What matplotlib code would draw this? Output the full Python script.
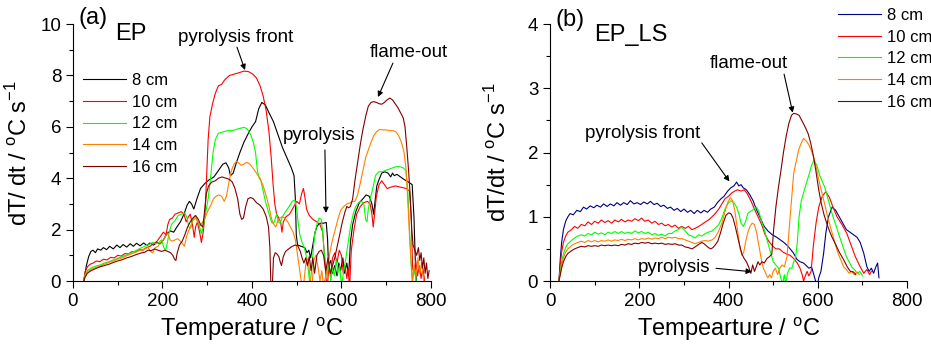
import matplotlib
matplotlib.use('Agg')
import matplotlib.pyplot as plt
import numpy as np
from matplotlib.ticker import MultipleLocator

plt.rcParams['font.family'] = ['Liberation Sans', 'DejaVu Sans']
plt.rcParams['mathtext.fontset'] = 'custom'
plt.rcParams['mathtext.rm'] = 'Liberation Sans'

labels = ['8 cm', '10 cm', '12 cm', '14 cm', '16 cm']
colors_a = ['black', '#ff0000', '#00ff00', '#ff8000', '#800000']
colors_b = ['#000080', '#ff0000', '#00ff00', '#ff8000', '#800000']

# (a) EP : (temperature, dT/dt)
ep_8 = [(24, 0), (27, 0.3), (30, 0.6), (35, 0.95), (40, 1.15), (45, 1.2), (50, 1.1), (55, 1.25), (62, 1.2),
        (68, 1.3), (75, 1.22), (82, 1.35), (90, 1.25), (98, 1.4), (105, 1.3), (112, 1.42), (120, 1.32),
        (128, 1.45), (135, 1.35), (142, 1.47), (150, 1.37), (158, 1.48), (165, 1.38), (172, 1.48), (180, 1.4),
        (188, 1.5), (195, 1.45), (202, 1.6), (210, 1.85), (218, 1.95), (225, 1.9), (232, 2.1), (240, 2.3),
        (248, 2.6), (255, 2.95), (260, 3.1), (265, 3.0), (270, 2.8), (277, 3.2), (285, 3.6), (295, 3.8),
        (305, 3.95), (315, 4.05), (325, 4.3), (335, 4.55), (342, 4.6), (348, 4.4), (352, 4.1), (358, 4.2),
        (365, 4.6), (373, 5.0), (382, 5.4), (392, 5.75), (400, 6.0), (408, 6.2), (415, 6.7), (422, 6.95),
        (430, 6.85), (438, 6.55), (448, 6.2), (458, 5.7), (468, 5.2), (478, 4.8), (488, 4.4), (494, 4.1),
        (497, 3.2), (499, 1.8), (502, 1.4), (510, 1.35), (518, 1.3), (523, 1.1), (527, 1.2), (531, 0.9),
        (536, 1.4), (541, 1.9), (546, 2.15), (552, 2.25), (560, 2.25), (566, 2.28), (569, 1.6), (571, 0.6),
        (576, 0.8), (580, 0.3), (585, 0.6), (590, 0.2), (594, 0.7), (598, 0.4), (603, 0.9), (607, 0.3),
        (612, 0.7), (616, 0.2), (620, 1.5), (625, 2.2), (632, 2.7), (640, 3.05), (648, 3.2), (655, 3.35),
        (662, 3.3), (668, 3.0), (672, 2.6), (675, 3.1), (679, 3.7), (684, 3.95), (690, 4.2), (697, 4.25),
        (704, 4.2), (710, 4.05), (714, 4.2), (718, 4.1), (724, 4.15), (732, 4.05), (740, 3.95), (750, 3.85),
        (758, 3.75), (762, 2.5), (765, 0.8), (768, -0.3)]
ep_10 = [(24, 0), (27, 0.35), (32, 0.55), (38, 0.65), (45, 0.7), (52, 0.78), (60, 0.75), (68, 0.85), (76, 0.82),
         (84, 0.92), (92, 0.9), (100, 1.0), (108, 0.97), (116, 1.07), (124, 1.05), (132, 1.15), (140, 1.12),
         (148, 1.22), (156, 1.2), (164, 1.3), (172, 1.35), (180, 1.45), (188, 1.55), (196, 1.75), (202, 1.9),
         (208, 1.8), (212, 2.2), (216, 2.4), (222, 2.45), (228, 2.6), (235, 2.65), (242, 2.7), (248, 2.6),
         (253, 2.3), (258, 2.5), (262, 2.6), (267, 2.2), (271, 1.7), (274, 2.1), (278, 2.3), (283, 1.9),
         (287, 1.5), (291, 1.9), (295, 2.6), (298, 3.8), (302, 5.5), (306, 6.4), (312, 6.9), (318, 7.3),
         (325, 7.6), (332, 7.65), (340, 7.85), (350, 8.0), (360, 8.05), (370, 8.1), (382, 8.17), (392, 8.15),
         (402, 8.05), (410, 7.9), (418, 7.6), (425, 7.2), (432, 6.6), (438, 5.8), (443, 4.8), (447, 3.8),
         (451, 3.0), (455, 2.6), (460, 2.45), (464, 2.3), (467, 1.9), (470, 2.3), (476, 2.5), (484, 2.6),
         (492, 2.85), (500, 3.1), (506, 3.0), (511, 3.4), (515, 3.6), (518, 3.3), (522, 2.8), (528, 2.55),
         (536, 2.4), (545, 2.3), (552, 2.2), (558, 1.9), (562, 1.0), (565, 0.2), (568, -0.3), (572, 0.6),
         (576, 0.2), (580, 0.9), (585, 1.1), (590, 0.7), (595, 1.2), (600, 1.0), (604, 0.3), (608, 0.6),
         (612, 0.1), (615, 0.5), (618, -0.3), (622, 1.2), (628, 2.0), (634, 2.6), (642, 2.9), (650, 3.05),
         (658, 3.1), (664, 3.0), (668, 2.6), (671, 2.1), (674, 2.6), (678, 3.3), (684, 3.75), (690, 3.9),
         (696, 3.75), (702, 3.6), (710, 3.65), (720, 3.7), (732, 3.65), (745, 3.6), (752, 3.5), (756, 2.5),
         (759, 0.5), (762, 0.3), (766, 0.8), (770, 0.2), (774, 0.6), (778, 0.1), (782, 0.5), (786, 0.0)]
ep_12 = [(24, 0), (27, 0.25), (32, 0.4), (40, 0.5), (50, 0.58), (60, 0.62), (70, 0.7), (80, 0.75), (90, 0.82),
         (100, 0.88), (110, 0.95), (120, 1.02), (130, 1.1), (140, 1.18), (150, 1.27), (160, 1.35), (170, 1.42),
         (178, 1.5), (185, 1.45), (192, 1.5), (198, 1.6), (203, 1.3), (207, 1.2), (211, 1.5), (215, 1.9),
         (220, 2.2), (228, 2.35), (235, 2.55), (242, 2.6), (250, 2.65), (255, 2.45), (259, 2.1), (263, 2.05),
         (268, 2.4), (273, 2.55), (278, 2.35), (283, 2.1), (287, 1.85), (291, 2.1), (296, 2.6), (302, 3.2),
         (308, 4.1), (313, 5.0), (318, 5.5), (325, 5.75), (335, 5.8), (345, 5.85), (355, 5.85), (365, 5.9),
         (375, 5.95), (383, 5.98), (390, 5.9), (397, 5.7), (403, 5.4), (408, 5.0), (412, 4.3), (416, 4.0),
         (420, 3.9), (425, 3.5), (430, 3.1), (435, 2.8), (440, 2.5), (445, 2.25), (450, 2.3), (455, 2.6),
         (459, 2.3), (463, 2.25), (468, 2.5), (475, 2.7), (483, 2.9), (490, 3.1), (496, 3.15), (500, 2.8),
         (503, 2.3), (507, 1.8), (512, 1.5), (517, 1.3), (521, 1.0), (526, 0.4), (530, -0.2), (535, 0.8),
         (540, 1.8), (545, 2.2), (550, 2.45), (555, 2.4), (558, 1.9), (561, 1.2), (565, 0.6), (568, 0.2),
         (572, 0.7), (576, 0.0), (580, 0.5), (584, 0.2), (588, 0.8), (592, 0.3), (596, 0.6), (600, -0.2),
         (605, 0.4), (610, 0.9), (615, 1.5), (620, 2.1), (626, 2.6), (632, 2.9), (638, 3.05), (645, 3.1),
         (650, 3.0), (654, 2.4), (657, 2.3), (660, 2.8), (664, 3.2), (670, 3.6), (676, 4.1), (683, 4.25),
         (690, 4.25), (698, 4.3), (706, 4.35), (714, 4.4), (722, 4.45), (730, 4.45), (738, 4.4), (744, 4.3),
         (748, 3.6), (752, 2.0), (755, 0.8), (758, 0.0), (762, 0.5), (766, 0.1), (770, -0.3)]
ep_14 = [(24, 0), (27, 0.2), (32, 0.35), (40, 0.45), (50, 0.52), (60, 0.58), (70, 0.65), (80, 0.72), (90, 0.78),
         (100, 0.85), (110, 0.9), (120, 0.98), (130, 1.05), (140, 1.12), (150, 1.2), (160, 1.25), (168, 1.3),
         (173, 1.15), (178, 1.1), (184, 1.3), (190, 1.35), (196, 1.5), (202, 1.6), (207, 1.75), (212, 1.85),
         (217, 1.6), (222, 1.55), (228, 1.6), (234, 1.65), (240, 1.55), (245, 1.45), (249, 1.35), (252, 1.6),
         (256, 1.85), (262, 2.1), (268, 2.35), (274, 2.45), (279, 2.3), (284, 2.15), (290, 2.3), (296, 2.5),
         (302, 2.75), (308, 2.95), (314, 3.2), (320, 3.3), (326, 3.35), (332, 3.3), (338, 3.1), (343, 3.3),
         (348, 3.8), (354, 4.3), (360, 4.55), (365, 4.65), (370, 4.6), (376, 4.5), (382, 4.55), (388, 4.62),
         (395, 4.55), (402, 4.4), (410, 4.2), (418, 4.0), (425, 3.7), (432, 3.3), (438, 2.9), (444, 2.4),
         (449, 2.2), (453, 2.1), (457, 2.3), (462, 2.45), (468, 2.5), (474, 2.45), (480, 2.3), (486, 2.1),
         (492, 1.9), (497, 1.6), (502, 1.0), (506, 0.5), (510, 0.0), (514, -0.4), (518, 0.3), (522, 0.9),
         (526, 0.8), (530, 0.1), (534, -0.3), (538, 0.8), (543, 1.0), (548, 0.5), (552, 0.0), (556, 0.4),
         (560, -0.2), (565, 0.2), (570, 0.6), (575, 1.2), (580, 1.6), (586, 2.0), (592, 2.4), (598, 2.75),
         (605, 2.9), (612, 3.0), (620, 3.05), (626, 3.1), (630, 3.1), (636, 3.35), (642, 3.8), (648, 4.3),
         (654, 4.8), (660, 5.1), (666, 5.4), (672, 5.65), (678, 5.8), (685, 5.9), (692, 5.88), (700, 5.88),
         (708, 5.85), (716, 5.85), (722, 5.8), (728, 5.65), (734, 5.4), (740, 5.0), (744, 4.4), (748, 3.2),
         (752, 1.8), (756, 0.7), (759, 0.0), (763, 0.6), (767, 0.2), (771, 0.9), (775, 0.3), (779, 0.7),
         (783, 0.1), (788, -0.3)]
ep_16 = [(24, 0), (27, 0.15), (32, 0.3), (40, 0.4), (50, 0.48), (60, 0.55), (70, 0.6), (80, 0.65), (90, 0.72),
         (100, 0.78), (110, 0.83), (120, 0.9), (130, 0.95), (140, 1.02), (150, 1.08), (160, 1.12), (168, 1.2),
         (175, 1.18), (182, 1.25), (190, 1.2), (198, 1.15), (205, 1.2), (212, 1.15), (218, 1.1), (223, 1.0),
         (227, 0.85), (230, 0.8), (233, 1.1), (238, 1.4), (244, 1.55), (250, 1.8), (256, 2.1), (262, 2.3),
         (268, 2.45), (274, 2.55), (280, 2.4), (285, 2.2), (290, 2.1), (294, 2.7), (298, 3.4), (303, 3.7),
         (310, 3.85), (318, 3.9), (325, 4.0), (333, 4.05), (342, 4.0), (350, 3.95), (356, 3.85), (362, 3.6),
         (368, 3.2), (373, 2.6), (377, 2.4), (381, 2.45), (386, 2.9), (391, 3.2), (397, 3.25), (403, 3.2),
         (410, 3.05), (418, 2.95), (425, 2.8), (432, 2.5), (437, 2.1), (440, 1.3), (442, 0.0), (444, -0.8),
         (446, 0.0), (448, 0.9), (452, 1.1), (456, 1.05), (460, 0.95), (463, 0.75), (466, 0.6), (470, 0.95),
         (475, 1.15), (482, 1.25), (490, 1.35), (497, 1.4), (503, 1.35), (508, 1.15), (512, 0.9), (516, 0.7),
         (520, 0.9), (524, 0.6), (528, 0.95), (532, 0.4), (536, 0.9), (540, 0.3), (545, 1.0), (550, 1.15),
         (555, 1.2), (560, 1.0), (565, 0.4), (570, 0.9), (575, 0.3), (580, 0.6), (585, 0.9), (590, 1.3),
         (596, 1.8), (602, 2.3), (608, 2.7), (612, 2.9), (616, 2.85), (620, 2.9), (625, 3.2), (630, 3.9),
         (636, 4.6), (642, 5.3), (648, 5.9), (654, 6.4), (660, 6.8), (666, 6.95), (672, 6.98), (678, 6.95),
         (684, 6.9), (690, 6.88), (696, 6.95), (702, 7.05), (708, 7.12), (714, 7.05), (720, 6.9), (726, 6.75),
         (732, 6.55), (738, 6.35), (742, 6.0), (746, 5.2), (750, 4.3), (754, 3.2), (757, 2.0), (760, 1.4),
         (764, 1.2), (768, 1.0), (772, 1.3), (775, 0.8), (778, 1.1), (781, 0.5), (784, 0.9), (787, 0.3),
         (790, 0.7), (793, 0.1), (796, 0.4)]

# (b) EP_LS
ls_8 = [(20, 0), (23, 0.35), (26, 0.6), (30, 0.8), (35, 0.93), (40, 1.0), (45, 1.05), (52, 1.03), (60, 1.1),
        (68, 1.08), (75, 1.15), (82, 1.12), (90, 1.17), (98, 1.14), (105, 1.18), (113, 1.15), (120, 1.2),
        (128, 1.16), (135, 1.2), (143, 1.17), (150, 1.22), (158, 1.18), (165, 1.22), (173, 1.19), (180, 1.25),
        (188, 1.2), (195, 1.22), (203, 1.19), (210, 1.23), (218, 1.2), (225, 1.24), (233, 1.19), (240, 1.21),
        (248, 1.16), (255, 1.18), (263, 1.13), (270, 1.15), (278, 1.1), (285, 1.13), (293, 1.08), (300, 1.12),
        (308, 1.07), (315, 1.1), (323, 1.05), (330, 1.1), (338, 1.06), (345, 1.1), (353, 1.07), (360, 1.12),
        (368, 1.15), (375, 1.22), (383, 1.28), (390, 1.32), (398, 1.4), (405, 1.45), (412, 1.48), (418, 1.54),
        (423, 1.48), (428, 1.5), (433, 1.45), (440, 1.42), (447, 1.35), (455, 1.25), (462, 1.12), (470, 1.0),
        (479, 0.86), (488, 0.78), (498, 0.72), (508, 0.68), (516, 0.64), (524, 0.6), (532, 0.55), (538, 0.5),
        (545, 0.44), (553, 0.34), (560, 0.3), (568, 0.28), (574, 0.24), (580, 0.2), (586, 0.22), (591, 0.1),
        (595, 0.0), (598, -0.1), (602, 0.05), (607, 0.15), (613, 0.43), (618, 0.75), (624, 1.0), (632, 1.15),
        (640, 1.1), (648, 1.0), (656, 0.9), (664, 0.8), (676, 0.74), (688, 0.68), (695, 0.6), (703, 0.43),
        (710, 0.22), (715, 0.15), (720, 0.2), (725, 0.12), (730, 0.22), (734, 0.28), (737, 0.05)]
ls_10 = [(20, 0), (23, 0.25), (26, 0.45), (30, 0.6), (35, 0.7), (40, 0.76), (48, 0.8), (55, 0.85), (62, 0.82),
         (70, 0.88), (78, 0.86), (85, 0.92), (93, 0.88), (100, 0.93), (108, 0.9), (115, 0.95), (123, 0.91),
         (130, 0.94), (138, 0.9), (145, 0.95), (153, 0.92), (160, 0.96), (168, 0.92), (175, 0.95), (183, 0.93),
         (190, 0.97), (198, 0.94), (205, 0.98), (212, 0.93), (220, 0.95), (228, 0.9), (235, 0.93), (243, 0.88),
         (250, 0.9), (258, 0.86), (265, 0.88), (273, 0.84), (280, 0.87), (288, 0.82), (295, 0.85), (303, 0.82),
         (310, 0.85), (318, 0.8), (325, 0.82), (333, 0.85), (340, 0.88), (348, 0.92), (355, 0.95), (363, 1.0),
         (370, 1.05), (378, 1.12), (385, 1.2), (392, 1.28), (400, 1.32), (407, 1.37), (414, 1.4), (420, 1.42),
         (428, 1.4), (435, 1.42), (442, 1.36), (450, 1.25), (458, 1.12), (466, 1.0), (474, 0.88), (482, 0.72),
         (490, 0.62), (498, 0.55), (506, 0.5), (514, 0.5), (522, 0.45), (530, 0.42), (538, 0.4), (546, 0.35),
         (554, 0.28), (560, 0.2), (565, 0.1), (568, 0.0), (572, 0.08), (576, 0.15), (580, 0.08), (585, 0.15),
         (590, 0.55), (596, 0.9), (602, 1.15), (610, 1.32), (618, 1.39), (626, 1.3), (634, 1.15), (643, 1.0),
         (654, 0.88), (665, 0.74), (675, 0.55), (684, 0.38), (695, 0.22), (703, 0.12), (710, 0.18),
         (716, 0.1), (720, 0.15)]
ls_12 = [(20, 0), (23, 0.15), (26, 0.3), (30, 0.42), (35, 0.52), (40, 0.58), (48, 0.63), (55, 0.67), (62, 0.7),
         (70, 0.72), (78, 0.7), (85, 0.74), (93, 0.72), (100, 0.76), (108, 0.73), (115, 0.75), (123, 0.72),
         (130, 0.76), (138, 0.74), (145, 0.77), (153, 0.74), (160, 0.77), (168, 0.74), (175, 0.76), (183, 0.74),
         (190, 0.78), (198, 0.75), (205, 0.77), (213, 0.74), (220, 0.76), (228, 0.72), (235, 0.74), (243, 0.71),
         (250, 0.73), (258, 0.7), (265, 0.74), (273, 0.74), (280, 0.78), (288, 0.8), (295, 0.84), (303, 0.78),
         (310, 0.72), (318, 0.7), (325, 0.67), (333, 0.72), (340, 0.7), (348, 0.74), (355, 0.76), (363, 0.78),
         (370, 0.82), (378, 0.88), (385, 0.98), (392, 1.12), (398, 1.2), (405, 1.25), (412, 1.22), (418, 1.15),
         (423, 1.05), (428, 0.9), (433, 0.85), (438, 0.92), (443, 1.05), (448, 1.08), (453, 1.1), (458, 1.13),
         (463, 1.15), (468, 1.08), (473, 0.95), (480, 0.8), (487, 0.62), (494, 0.45), (500, 0.3), (506, 0.25),
         (512, 0.2), (517, 0.05), (521, -0.05), (525, 0.1), (528, -0.05), (532, 0.12), (537, 0.2), (542, 0.2),
         (546, 0.3), (550, 0.35), (554, 0.6), (558, 1.0), (563, 1.25), (572, 1.47), (580, 1.65), (586, 1.8),
         (591, 1.88), (598, 1.8), (604, 1.65), (610, 1.55), (616, 1.45), (622, 1.3), (628, 1.15), (634, 1.0),
         (640, 0.88), (646, 0.75), (652, 0.62), (658, 0.5), (664, 0.38), (670, 0.3), (676, 0.22), (682, 0.18),
         (688, 0.12), (694, 0.15), (700, 0.08)]
ls_14 = [(20, 0), (23, 0.12), (26, 0.25), (30, 0.36), (35, 0.45), (40, 0.5), (48, 0.55), (55, 0.58), (62, 0.6),
         (70, 0.62), (78, 0.6), (85, 0.63), (93, 0.61), (100, 0.63), (108, 0.61), (115, 0.63), (123, 0.62),
         (130, 0.64), (138, 0.62), (145, 0.64), (153, 0.63), (160, 0.65), (168, 0.63), (175, 0.65), (183, 0.64),
         (190, 0.66), (198, 0.64), (205, 0.66), (213, 0.65), (220, 0.67), (228, 0.65), (235, 0.67), (243, 0.66),
         (250, 0.68), (258, 0.66), (265, 0.68), (273, 0.67), (280, 0.68), (288, 0.66), (295, 0.66), (303, 0.64),
         (310, 0.62), (318, 0.6), (325, 0.58), (333, 0.6), (340, 0.62), (348, 0.63), (355, 0.62), (363, 0.64),
         (370, 0.68), (378, 0.78), (385, 0.9), (392, 1.08), (398, 1.22), (404, 1.3), (409, 1.25), (414, 1.1),
         (418, 0.9), (422, 0.7), (426, 0.5), (430, 0.4), (434, 0.45), (438, 0.6), (443, 0.75), (448, 0.85),
         (453, 0.9), (458, 0.88), (463, 0.75), (468, 0.55), (473, 0.35), (478, 0.2), (483, 0.12), (488, 0.05),
         (492, 0.1), (496, 0.05), (500, 0.15), (505, 0.2), (510, 0.1), (515, 0.2), (520, 0.25), (525, 0.22),
         (531, 0.38), (538, 1.0), (546, 1.68), (557, 2.04), (563, 2.15), (568, 2.22), (574, 2.18), (580, 2.12),
         (586, 2.02), (592, 1.9), (598, 1.72), (604, 1.52), (610, 1.35), (616, 1.18), (622, 1.0), (628, 0.85),
         (634, 0.7), (640, 0.55), (646, 0.42), (652, 0.32), (658, 0.22), (664, 0.18), (670, 0.12), (676, 0.15),
         (682, 0.1), (688, 0.14), (693, 0.1)]
ls_16 = [(20, 0), (23, 0.1), (26, 0.2), (30, 0.3), (35, 0.38), (40, 0.43), (48, 0.47), (55, 0.5), (62, 0.52),
         (70, 0.54), (78, 0.53), (85, 0.55), (93, 0.54), (100, 0.55), (108, 0.54), (115, 0.56), (123, 0.55),
         (130, 0.56), (138, 0.55), (145, 0.56), (153, 0.55), (160, 0.57), (168, 0.56), (175, 0.58), (183, 0.57),
         (190, 0.59), (198, 0.58), (205, 0.6), (213, 0.59), (220, 0.6), (228, 0.58), (235, 0.59), (243, 0.58),
         (250, 0.59), (258, 0.57), (265, 0.58), (273, 0.57), (280, 0.58), (288, 0.56), (295, 0.56), (303, 0.53),
         (310, 0.52), (318, 0.5), (325, 0.53), (333, 0.57), (340, 0.6), (345, 0.58), (350, 0.55), (355, 0.52),
         (360, 0.5), (365, 0.52), (370, 0.56), (376, 0.62), (382, 0.75), (388, 0.9), (394, 1.02), (400, 1.06),
         (405, 1.05), (410, 0.98), (415, 0.85), (420, 0.7), (425, 0.55), (430, 0.42), (435, 0.35), (440, 0.3),
         (445, 0.22), (450, 0.12), (454, 0.25), (458, 0.15), (462, 0.22), (466, 0.3), (470, 0.25), (475, 0.3),
         (480, 0.28), (486, 0.35), (492, 0.38), (497, 0.42), (501, 0.8), (506, 1.15), (512, 1.47), (518, 1.75),
         (523, 2.0), (529, 2.25), (535, 2.45), (541, 2.58), (546, 2.61), (552, 2.6), (558, 2.58), (564, 2.5),
         (570, 2.42), (578, 2.3), (584, 2.15), (590, 1.95), (596, 1.7), (602, 1.42), (608, 1.2), (614, 1.03),
         (620, 0.9), (626, 0.78), (632, 0.68), (640, 0.57), (648, 0.45), (658, 0.33), (666, 0.22), (673, 0.15),
         (680, 0.14), (685, 0.1)]

fig = plt.figure(figsize=(9.31, 3.44), dpi=100)
ax1 = fig.add_axes([0.0784, 0.1831, 0.3845, 0.747])
ax2 = fig.add_axes([0.5908, 0.1831, 0.3835, 0.747])

for series, col, lab in zip([ep_8, ep_10, ep_12, ep_14, ep_16], colors_a, labels):
    t, r = np.array(series).T
    ax1.plot(t, r, color=col, lw=0.8, label=lab)
for series, col, lab in zip([ls_8, ls_10, ls_12, ls_14, ls_16], colors_b, labels):
    t, r = np.array(series).T
    ax2.plot(t, r, color=col, lw=0.8, label=lab)

for ax, ymax, ymaj in [(ax1, 10, 2), (ax2, 4, 1)]:
    ax.set_xlim(0, 800)
    ax.set_ylim(0, ymax)
    ax.xaxis.set_major_locator(MultipleLocator(200))
    ax.xaxis.set_minor_locator(MultipleLocator(100))
    ax.yaxis.set_major_locator(MultipleLocator(ymaj))
    ax.yaxis.set_minor_locator(MultipleLocator(ymaj / 2))
    ax.spines['top'].set_visible(False)
    ax.spines['right'].set_visible(False)
    ax.spines['left'].set_linewidth(0.8)
    ax.spines['bottom'].set_linewidth(0.8)
    ax.tick_params(which='major', direction='out', length=5, width=0.8, labelsize=13.5)
    ax.tick_params(which='minor', direction='out', length=3, width=0.8)

ax1.set_xlabel('Temperature / $^\\mathregular{o}$C', fontsize=17, labelpad=4)
ax1.set_ylabel('dT/ dt / $^\\mathregular{o}$C s$^\\mathregular{-1}$', fontsize=17, labelpad=6)
ax2.set_xlabel('Tempearture / $^\\mathregular{o}$C', fontsize=17, labelpad=4)
ax2.set_ylabel('dT/dt / $^\\mathregular{o}$C s$^\\mathregular{-1}$', fontsize=17, labelpad=12)

leg_kw = dict(frameon=False, fontsize=12, handlelength=2.6, handletextpad=0.35, labelspacing=0.4,
              borderpad=0, borderaxespad=0, loc='upper left', bbox_transform=fig.transFigure)
ax1.legend(bbox_to_anchor=(83 / 931, 1 - 73 / 344), **leg_kw)
ax2.legend(bbox_to_anchor=(838 / 931, 1 - 8 / 344), **leg_kw)

arrow = dict(arrowstyle='-|>', color='black', lw=0.8, shrinkA=0, shrinkB=0, mutation_scale=8)

# panel (a) texts
ax1.text(44.7, 10.22, '(a)', fontsize=17, ha='center', va='center', clip_on=False)
ax1.text(129, 9.61, 'EP', fontsize=17, ha='center', va='center')
ax1.text(364, 9.49, 'pyrolysis front', fontsize=13.5, ha='center', va='center')
ax1.annotate('', xy=(384.4, 8.21), xytext=(366.5, 9.1), arrowprops=arrow)
ax1.text(751, 8.89, 'flame-out', fontsize=13.5, ha='center', va='center')
ax1.annotate('', xy=(681.6, 7.16), xytext=(715, 8.48), arrowprops=arrow)
ax1.text(549.7, 5.68, 'pyrolysis', fontsize=13.5, ha='center', va='center')
ax1.annotate('', xy=(565.4, 2.65), xytext=(563, 5.1), arrowprops=arrow)

# panel (b) texts
ax2.text(44.8, 4.06, '(b)', fontsize=17, ha='center', va='center', clip_on=False)
ax2.text(180, 3.83, 'EP_LS', fontsize=17, ha='center', va='center')
ax2.text(446, 3.39, 'flame-out', fontsize=13.5, ha='center', va='center')
ax2.annotate('', xy=(543.8, 2.62), xytext=(524.4, 3.22), arrowprops=arrow)
ax2.text(206.9, 2.30, 'pyrolysis front', fontsize=13.5, ha='center', va='center')
ax2.annotate('', xy=(401.9, 1.55), xytext=(340, 2.15), arrowprops=arrow)
ax2.text(278.6, 0.207, 'pyrolysis', fontsize=13.5, ha='center', va='center')
ax2.annotate('', xy=(452, 0.145), xytext=(372, 0.197), arrowprops=arrow)

fig.savefig('out.png', dpi=100)
